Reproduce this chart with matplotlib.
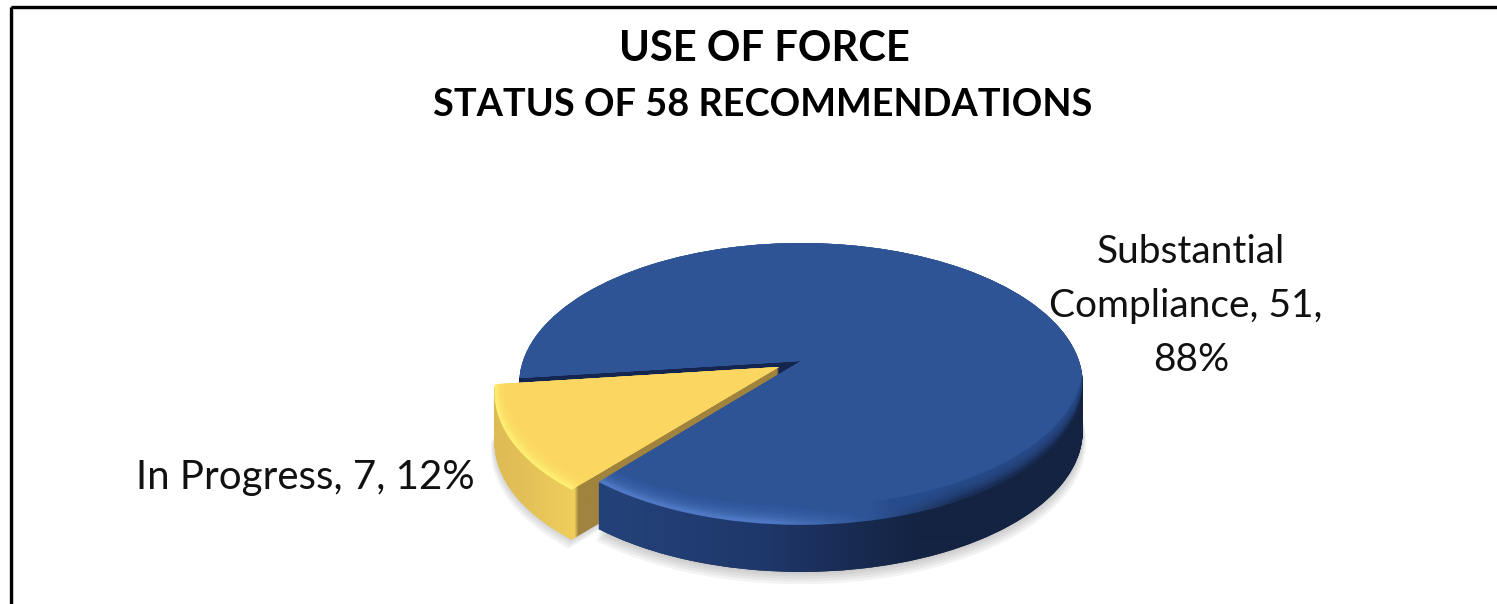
import numpy as np
import matplotlib
matplotlib.use("Agg")
import matplotlib.pyplot as plt
from matplotlib.patches import Wedge, Circle, PathPatch, Rectangle
from matplotlib.path import Path
from matplotlib.transforms import Transform, Affine2D

# ---- data ----
categories = ["In Progress", "Substantial\nCompliance"]
values = [7, 51]
percents = ["12%", "88%"]
title_main = "USE OF FORCE"
title_sub = "STATUS OF 58 RECOMMENDATIONS"

# ---- style ----
W, H = 1497, 604
FACE = ["#FBD661", "#2E5496"]
CX, CY = 801, 361
A, B, K = 137.2, 278.0, 0.163
DEPTH = 47
YELLOW_DEPTH = 50
FONT = "Lato"

fig = plt.figure(figsize=(W / 100, H / 100), dpi=100)
ax = fig.add_axes([0, 0, 1, 1])


class Persp(Transform):
    input_dims = output_dims = 2
    is_affine = False
    has_inverse = False

    def transform_non_affine(self, v):
        v = np.asarray(v, float)
        w = 1 + K * v[:, 1]
        return np.column_stack([B * v[:, 0] / w, A * v[:, 1] / w])

    def transform_path_non_affine(self, p):
        return Path(self.transform_non_affine(p.vertices), p.codes)


def pix(dz=0, dx=0):
    return Persp() + Affine2D().scale(1, -1).translate(CX + dx, CY + dz)


def swept(path, start=1, stop=DEPTH):
    return Path.make_compound_path(*[pix(d).transform_path(path) for d in range(start, stop + 1)])


xx = np.arange(W)


def ramp(stops):
    xs = [s[0] for s in stops]
    arr = np.stack([np.interp(xx, xs, [s[1][i] / 255 for s in stops]) for i in range(3)], axis=-1)
    return np.repeat(arr[None, :, :], 4, axis=0)


def paint(arr, clip, z):
    im = ax.imshow(arr, extent=(0, W, H, 0), aspect="auto", zorder=z, interpolation="bilinear")
    im.set_clip_path(clip, transform=ax.transData)
    return im


wedges, _ = ax.pie(values, explode=[0.09, 0], startangle=187, colors=FACE, frame=True,
                   wedgeprops=dict(linewidth=0))
yellow, blue = wedges
for w in wedges:
    w.remove()

# soft shadow below the whole pie
for i, (d, r) in enumerate([(10, 1.012), (8, 1.008), (6, 1.005), (4, 1.002), (2, 1.0)]):
    for w in (yellow, blue):
        s = Wedge(w.center, r, w.theta1, w.theta2, fc="#808080", alpha=0.09, lw=0, zorder=1)
        ax.add_patch(s)
        s.set_transform(pix(DEPTH + d) + ax.transData)

# dark inner wall of the blue slice, visible in the notch
ax.add_patch(PathPatch(swept(blue.get_path()), fc="#14264F", lw=0, zorder=2, transform=ax.transData))

# yellow side walls and cut face
yellow_side = [(490, (222, 186, 84)), (530, (228, 194, 88)), (574, (240, 206, 92)),
               (578, (160, 132, 62)), (800, (160, 132, 62))]
paint(ramp(yellow_side), swept(yellow.get_path(), stop=YELLOW_DEPTH), 3)

# yellow top, with bright rim
yellow_top = pix().transform_path(yellow.get_path())
paint(ramp([(480, (255, 238, 112)), (590, (255, 238, 112))]), yellow_top, 4)
for d in range(2, 15):
    c = Circle(yellow.center, 1, fc=FACE[0], alpha=0.16 if d < 14 else 1, lw=0, zorder=5)
    ax.add_patch(c)
    c.set_transform(pix(-d, d * 0.8) + ax.transData)
    c.set_clip_path(yellow_top, transform=ax.transData)

# blue front wall
front = Wedge(blue.center, 1, blue.theta1, 360)
blue_side = [(600, (36, 66, 122)), (760, (31, 56, 107)), (830, (26, 46, 88)),
             (920, (20, 35, 65)), (1090, (20, 35, 65))]
paint(ramp(blue_side), swept(front.get_path()), 6)

# blue top, with rim highlight fading to dark on the right
blue_top = pix().transform_path(blue.get_path())
blue_rim = [(600, (78, 120, 196)), (770, (78, 120, 196)), (870, (46, 84, 150)),
            (960, (26, 48, 90)), (1090, (22, 38, 72))]
paint(ramp(blue_rim), blue_top, 7)
for d in range(3, 20):
    c = Circle(blue.center, 1, fc=FACE[1], alpha=0.11 if d < 19 else 1, lw=0, zorder=8)
    ax.add_patch(c)
    c.set_transform(pix(-d) + ax.transData)
    c.set_clip_path(blue_top, transform=ax.transData)

# chart frame (runs off the right and bottom of the picture)
ax.add_patch(Rectangle((10.5, 6.5), W + 20, H + 20, fc="none", ec="black", lw=2.4, zorder=10))
ax.add_patch(Rectangle((12.5, 8.5), W + 20, H + 20, fc="none", ec="#C8C8C8", lw=0.7, zorder=10))

# titles
ax.text(764, 49, title_main, ha="center", va="center", fontsize=30, fontweight="bold",
        family=FONT, color="black", zorder=11)
ax.text(763, 105, title_sub, ha="center", va="center", fontsize=27.3, fontweight="bold",
        family=FONT, color="black", zorder=11)

# data labels
ax.text(305, 477, f"{categories[0]}, {values[0]}, {percents[0]}", ha="center", va="center",
        fontsize=29, family=FONT, color="#111111", zorder=11)
ax.text(1191, 306, f"{categories[1]}, {values[1]}, \n{percents[1]}", ha="center", va="center",
        fontsize=28, family=FONT, color="#111111", linespacing=1.62, zorder=11)

ax.set_aspect("auto")
ax.set_xlim(0, W)
ax.set_ylim(H, 0)
ax.axis("off")
fig.savefig("out.png", dpi=100, facecolor="white")
